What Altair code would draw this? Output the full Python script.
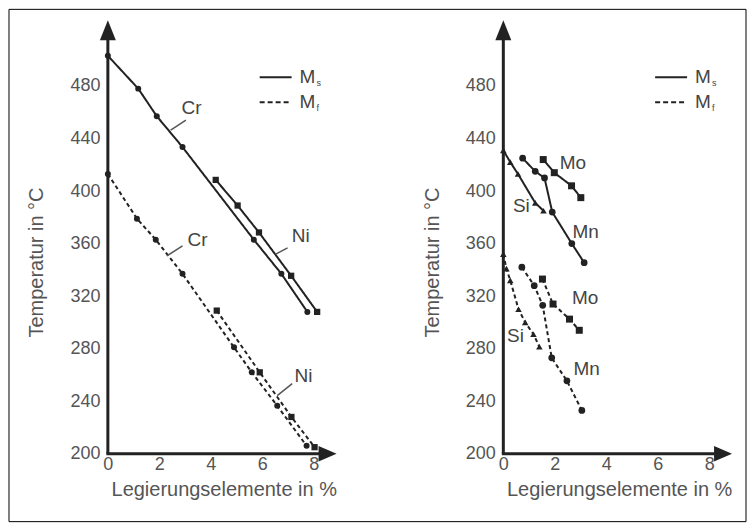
import altair as alt
import pandas as pd

# ---------------- data ----------------
# left panel (Cr, Ni)
cr_ms_x = [0, 1.18, 1.90, 2.90, 5.67, 6.74, 7.75]
cr_ms_t = [503, 478, 457, 433.5, 363, 337, 308]
ni_ms_x = [4.19, 5.04, 5.87, 7.12, 8.13]
ni_ms_t = [408.5, 389, 368.5, 335.5, 308]
cr_mf_x = [0, 1.13, 1.86, 2.90, 4.90, 5.59, 6.58, 7.72]
cr_mf_t = [413, 379, 363, 337, 281, 262, 236.5, 206]
ni_mf_x = [4.23, 5.90, 7.13, 8.03]
ni_mf_t = [309, 262, 228, 205]

# right panel (Si, Mn, Mo)
si_ms_x = [0, 0.27, 0.57, 1.24, 1.56]
si_ms_t = [431, 422, 413, 391, 385]
mn_ms_x = [0.75, 1.24, 1.60, 1.90, 2.66, 3.14]
mn_ms_t = [425, 415, 410, 384, 360, 345.5]
mo_ms_x = [1.55, 1.98, 2.65, 3.01]
mo_ms_t = [424, 414, 404, 395]
si_mf_x = [0, 0.12, 0.27, 0.59, 0.85, 1.17, 1.40]
si_mf_t = [352, 341, 332, 310, 300, 291, 281.5]
mn_mf_x = [0.72, 1.20, 1.53, 1.88, 2.47, 3.05]
mn_mf_t = [342, 328, 313, 273, 255.5, 233]
mo_mf_x = [1.52, 1.93, 2.57, 2.95]
mo_mf_t = [333, 314, 302.5, 294]

# curve labels (data units)
left_lab_text = ["Cr", "Ni", "Cr", "Ni"]
left_lab_x = [3.25, 7.49, 3.48, 7.60]
left_lab_t = [463, 366, 363, 259]
left_lead_x1 = [2.44, 6.52, 2.29, 6.58]
left_lead_t1 = [446.4, 352, 350.6, 244.2]
left_lead_x2 = [3.03, 6.98, 2.90, 7.16]
left_lead_t2 = [454, 356.7, 358.2, 253.4]

right_lab_text = ["Mo", "Si", "Mn", "Mo", "Si", "Mn"]
right_lab_x = [2.70, 0.70, 3.20, 3.18, 0.47, 3.24]
right_lab_t = [421, 389, 369, 318.4, 289.4, 264.2]

x_ticks = [0, 2, 4, 6, 8]
y_ticks = [200, 240, 280, 320, 360, 400, 440, 480]
x_title = "Legierungselemente in %"
y_title = "Temperatur in °C"

# ---------------- style ----------------
INK = "#222222"
GRAY = "#555555"
FONT = "Liberation Sans, Arial, sans-serif"
W, H = 232, 434


def series(elem, kind, xs, ts):
    return pd.DataFrame({"x": xs, "T": ts, "elem": elem, "kind": kind,
                         "series": elem + kind})


left_df = pd.concat([
    series("Cr", "Ms", cr_ms_x, cr_ms_t), series("Ni", "Ms", ni_ms_x, ni_ms_t),
    series("Cr", "Mf", cr_mf_x, cr_mf_t), series("Ni", "Mf", ni_mf_x, ni_mf_t)])
right_df = pd.concat([
    series("Si", "Ms", si_ms_x, si_ms_t), series("Mn", "Ms", mn_ms_x, mn_ms_t),
    series("Mo", "Ms", mo_ms_x, mo_ms_t), series("Si", "Mf", si_mf_x, si_mf_t),
    series("Mn", "Mf", mn_mf_x, mn_mf_t), series("Mo", "Mf", mo_mf_x, mo_mf_t)])

ELEMS = ["Cr", "Ni", "Si", "Mn", "Mo"]
SHAPES = ["circle", "square", "triangle-up", "circle", "square"]
SIZES = [36, 49, 26, 36, 49]

one = pd.DataFrame({"a": [0]})


def panel(df, labels, leaders, frame=False):
    xs = alt.X("x:Q", scale=alt.Scale(domain=[0, 9], nice=False, zero=False),
               axis=alt.Axis(values=x_ticks, title=x_title))
    ys = alt.Y("T:Q", scale=alt.Scale(domain=[200, 530], nice=False, zero=False),
               axis=alt.Axis(values=y_ticks, title=y_title, titleY=242))
    lines = alt.Chart(df).mark_line(color=INK, strokeWidth=2).encode(
        xs, ys, detail="series:N",
        strokeDash=alt.StrokeDash("kind:N", scale=alt.Scale(domain=["Ms", "Mf"], range=[[1, 0], [4, 3]]), legend=None))
    pts = alt.Chart(df).mark_point(filled=True, color=INK, opacity=1).encode(
        x="x:Q", y="T:Q",
        shape=alt.Shape("elem:N", scale=alt.Scale(domain=ELEMS, range=SHAPES), legend=None),
        size=alt.Size("elem:O", scale=alt.Scale(domain=ELEMS, range=SIZES), legend=None))
    layers = [lines, pts]
    if leaders is not None:
        layers.append(alt.Chart(leaders).mark_rule(color=GRAY, strokeWidth=1.5).encode(
            x="x1:Q", y="t1:Q", x2="x2:Q", y2="t2:Q"))
    layers.append(alt.Chart(labels).mark_text(font=FONT, fontSize=19, color="#444444",
                                              align="center", baseline="middle").encode(
        x="x:Q", y="T:Q", text="lab:N"))
    # axis lines with arrows
    layers.append(alt.Chart(one).mark_rule(color=INK, strokeWidth=3).encode(
        x=alt.value(0), y=alt.value(12), y2=alt.value(H)))
    layers.append(alt.Chart(one).mark_rule(color=INK, strokeWidth=3).encode(
        x=alt.value(-1.5), x2=alt.value(216), y=alt.value(H)))
    layers.append(alt.Chart(one).mark_point(shape="M0,-1L0.8,1L-0.8,1Z", filled=True, color=INK,
                                            opacity=1, size=400).encode(x=alt.value(0), y=alt.value(10)))
    layers.append(alt.Chart(one).mark_point(shape="M1,0L-1,-0.85L-1,0.85Z", filled=True, color=INK,
                                            opacity=1, size=324).encode(x=alt.value(220), y=alt.value(H)))
    # legend
    layers.append(alt.Chart(one).mark_rule(color=INK, strokeWidth=2).encode(
        x=alt.value(152), x2=alt.value(184), y=alt.value(57)))
    layers.append(alt.Chart(one).mark_rule(color=INK, strokeWidth=2, strokeDash=[5, 3]).encode(
        x=alt.value(152), x2=alt.value(184), y=alt.value(82)))
    for yy, sub in [(57, "s"), (82, "f")]:
        layers.append(alt.Chart(one).mark_text(text="M", font=FONT, fontSize=19, color="#444444",
                                               align="left", baseline="middle").encode(
            x=alt.value(192), y=alt.value(yy)))
        layers.append(alt.Chart(one).mark_text(text=sub, font=FONT, fontSize=9, color="#444444",
                                               align="left", baseline="middle").encode(
            x=alt.value(209), y=alt.value(yy + 6)))
    if frame:
        layers.append(alt.Chart(one).mark_rect(fillOpacity=0, stroke="#000000", strokeWidth=1).encode(
            x=alt.value(-99), x2=alt.value(639), y=alt.value(-11), y2=alt.value(502)))
    return alt.layer(*layers).properties(width=W, height=H)


left_labels = pd.DataFrame({"lab": left_lab_text, "x": left_lab_x, "T": left_lab_t})
left_leaders = pd.DataFrame({"x1": left_lead_x1, "t1": left_lead_t1,
                             "x2": left_lead_x2, "t2": left_lead_t2})
right_labels = pd.DataFrame({"lab": right_lab_text, "x": right_lab_x, "T": right_lab_t})

left = panel(left_df, left_labels, left_leaders, frame=True)
right = panel(right_df, right_labels, None)

chart = alt.hconcat(left, right, spacing=164, bounds="flush").properties(
    padding=0, background="white"
).configure_view(stroke=None).configure_axis(
    domain=False, ticks=False, tickSize=0, grid=False, labelFlush=False,
    labelFont=FONT, labelFontSize=18, labelColor=GRAY,
    titleFont=FONT, titleFontSize=20, titleFontWeight="normal", titleColor=GRAY
).configure_axisX(labelPadding=2, titlePadding=6).configure_axisY(labelPadding=8, titlePadding=23)

chart.save("out.html", embed_options={"renderer": "svg", "actions": False})
